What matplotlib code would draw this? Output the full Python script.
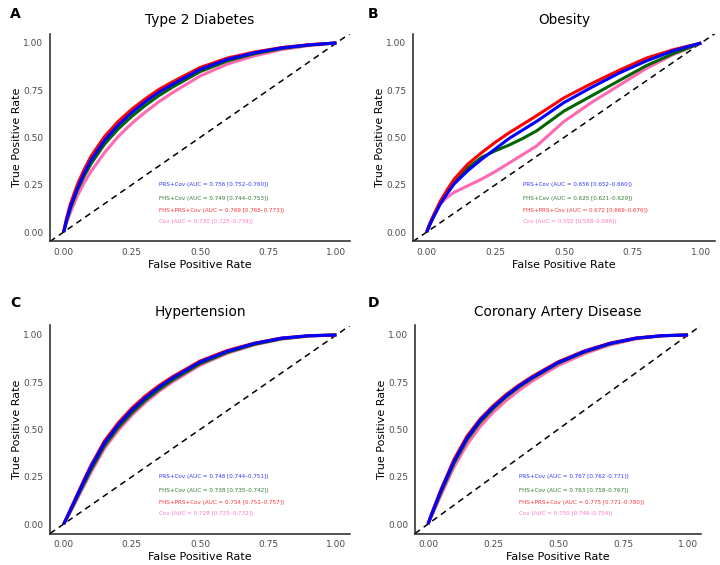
import matplotlib
matplotlib.use("Agg")
import matplotlib.pyplot as plt

# shared FPR grid the curves were read at
fpr = [0, 0.01, 0.025, 0.05, 0.075, 0.1, 0.15, 0.2, 0.25, 0.3, 0.35, 0.4,
       0.5, 0.6, 0.7, 0.8, 0.9, 1.0]

titles = ["Type 2 Diabetes", "Obesity", "Hypertension", "Coronary Artery Disease"]
letters = ["A", "B", "C", "D"]
models = ["PRS+Cov", "FHS+Cov", "FHS+PRS+Cov", "Cov"]

# TPR per model per disease (order: PRS+Cov, FHS+Cov, FHS+PRS+Cov, Cov)
tpr_t2d = [
    [0, 0.06, 0.135, 0.23, 0.31, 0.38, 0.485, 0.565, 0.632, 0.69, 0.74, 0.782, 0.86, 0.913, 0.948, 0.974, 0.99, 1.0],
    [0, 0.055, 0.125, 0.22, 0.295, 0.36, 0.465, 0.545, 0.612, 0.67, 0.722, 0.767, 0.848, 0.905, 0.943, 0.971, 0.989, 1.0],
    [0, 0.07, 0.15, 0.25, 0.33, 0.40, 0.505, 0.585, 0.65, 0.705, 0.755, 0.795, 0.87, 0.92, 0.952, 0.976, 0.991, 1.0],
    [0, 0.045, 0.105, 0.19, 0.26, 0.32, 0.42, 0.505, 0.575, 0.635, 0.69, 0.738, 0.825, 0.888, 0.932, 0.965, 0.986, 1.0],
]
tpr_obesity = [
    [0, 0.035, 0.08, 0.15, 0.205, 0.255, 0.325, 0.385, 0.44, 0.495, 0.54, 0.585, 0.685, 0.765, 0.84, 0.905, 0.96, 1.0],
    [0, 0.04, 0.085, 0.155, 0.21, 0.26, 0.34, 0.395, 0.43, 0.46, 0.495, 0.535, 0.64, 0.72, 0.80, 0.88, 0.945, 1.0],
    [0, 0.04, 0.09, 0.165, 0.225, 0.28, 0.36, 0.42, 0.475, 0.525, 0.57, 0.615, 0.71, 0.785, 0.855, 0.92, 0.965, 1.0],
    [0, 0.035, 0.08, 0.15, 0.185, 0.21, 0.245, 0.28, 0.32, 0.365, 0.41, 0.455, 0.585, 0.685, 0.775, 0.865, 0.94, 1.0],
]
tpr_htn = [
    [0, 0.029, 0.075, 0.152, 0.228, 0.302, 0.43, 0.525, 0.603, 0.668, 0.725, 0.773, 0.857, 0.914, 0.955, 0.983, 0.996, 1.0],
    [0, 0.027, 0.07, 0.143, 0.215, 0.287, 0.415, 0.51, 0.588, 0.655, 0.712, 0.762, 0.848, 0.908, 0.951, 0.98, 0.995, 1.0],
    [0, 0.03, 0.078, 0.157, 0.235, 0.31, 0.44, 0.535, 0.613, 0.678, 0.733, 0.78, 0.862, 0.918, 0.957, 0.984, 0.996, 1.0],
    [0, 0.024, 0.064, 0.133, 0.203, 0.273, 0.40, 0.495, 0.575, 0.643, 0.702, 0.752, 0.84, 0.903, 0.948, 0.978, 0.994, 1.0],
]
tpr_cad = [
    [0, 0.038, 0.09, 0.178, 0.255, 0.332, 0.455, 0.548, 0.618, 0.678, 0.73, 0.775, 0.854, 0.912, 0.955, 0.983, 0.996, 1.0],
    [0, 0.035, 0.085, 0.168, 0.245, 0.322, 0.445, 0.538, 0.61, 0.672, 0.725, 0.77, 0.85, 0.909, 0.953, 0.982, 0.996, 1.0],
    [0, 0.04, 0.095, 0.183, 0.262, 0.342, 0.465, 0.555, 0.625, 0.685, 0.735, 0.78, 0.858, 0.915, 0.957, 0.984, 0.996, 1.0],
    [0, 0.03, 0.075, 0.153, 0.228, 0.302, 0.42, 0.515, 0.59, 0.652, 0.707, 0.755, 0.838, 0.90, 0.947, 0.979, 0.995, 1.0],
]
tprs = [tpr_t2d, tpr_obesity, tpr_htn, tpr_cad]

# AUC labels with 95% CI
auc_t2d = ["0.756 [0.752\u20130.760]", "0.749 [0.744\u20130.753]", "0.769 [0.765\u20130.773]", "0.730 [0.725\u20130.734]"]
auc_obesity = ["0.656 [0.652\u20130.660]", "0.625 [0.621\u20130.629]", "0.672 [0.669\u20130.676]", "0.592 [0.588\u20130.596]"]
auc_htn = ["0.748 [0.744\u20130.751]", "0.738 [0.735\u20130.742]", "0.754 [0.751\u20130.757]", "0.728 [0.725\u20130.732]"]
auc_cad = ["0.767 [0.762\u20130.771]", "0.763 [0.758\u20130.767]", "0.775 [0.771\u20130.780]", "0.750 [0.746\u20130.754]"]
aucs = [auc_t2d, auc_obesity, auc_htn, auc_cad]

line_colors = ["blue", "darkgreen", "red", "hotpink"]
text_colors = ["#3333ff", "#2e7d2e", "#ff3333", "#ff77c0"]
draw_order = [3, 1, 2, 0]  # pink, green, red, blue on top
label_y = [0.25, 0.18, 0.115, 0.055]

W, H = 720, 565
# axes boxes in pixels: left, right, top, bottom
boxes = [
    (50, 350, 33.5, 241.5),
    (413, 715, 33.5, 241.5),
    (50, 350, 325.5, 533.5),
    (415, 701, 325.5, 533.5),
]
letter_pos = [(10, 14), (368, 14), (10, 303), (368, 303)]

fig = plt.figure(figsize=(7.2, 5.65), dpi=100)

for i in range(4):
    l, r, t, b = boxes[i]
    ax = fig.add_axes([l / W, 1 - b / H, (r - l) / W, (b - t) / H])
    ax.plot([-0.05, 1.05], [-0.05, 1.05], color="black", ls=(0, (4, 3)), lw=1.1, zorder=1)
    for k in draw_order:
        ax.plot(fpr, tprs[i][k], color=line_colors[k], lw=2.2,
                solid_joinstyle="round", solid_capstyle="butt", zorder=2)
    for k in range(4):
        ax.text(0.35, label_y[k], f"{models[k]} (AUC = {aucs[i][k]})",
                color=text_colors[k], fontsize=4.1, va="center", ha="left")
    ax.set_xlim(-0.05, 1.05)
    ax.set_ylim(-0.05, 1.05)
    ticks = [0, 0.25, 0.5, 0.75, 1.0]
    ax.set_xticks(ticks)
    ax.set_yticks(ticks)
    ax.set_xticklabels([f"{v:.2f}" for v in ticks])
    ax.set_yticklabels([f"{v:.2f}" for v in ticks])
    ax.tick_params(length=0, pad=5, labelsize=6.5, labelcolor="#4d4d4d")
    for s in ["top", "right"]:
        ax.spines[s].set_visible(False)
    for s in ["left", "bottom"]:
        ax.spines[s].set_linewidth(1.1)
        ax.spines[s].set_color("#222222")
    ax.set_xlabel("False Positive Rate", fontsize=8, labelpad=2)
    ax.set_ylabel("True Positive Rate", fontsize=8, labelpad=1)
    ax.set_title(titles[i], fontsize=9.8, pad=7)
    fig.text(letter_pos[i][0] / W, 1 - letter_pos[i][1] / H, letters[i],
             fontsize=10, fontweight="bold", va="center", ha="left")

fig.savefig("out.png", dpi=100)
